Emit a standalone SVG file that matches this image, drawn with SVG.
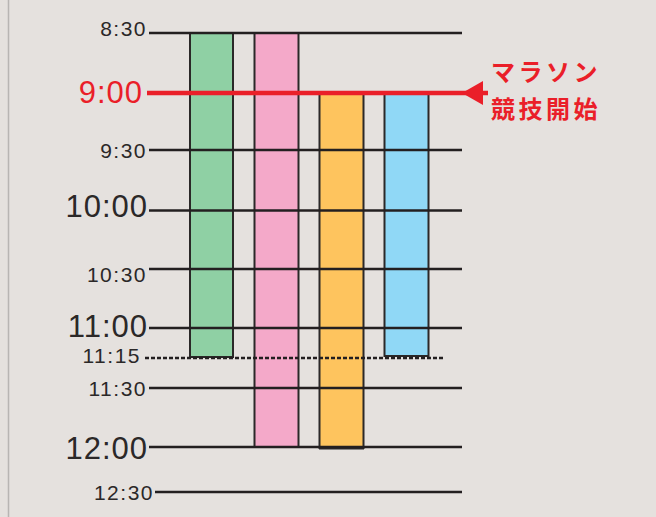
<svg xmlns="http://www.w3.org/2000/svg" width="656" height="517" viewBox="0 0 656 517">
<style>
.lbl{font-family:"Liberation Sans",Arial,sans-serif;fill:#2b2828;text-anchor:end}
.s{font-size:21px;letter-spacing:1.5px}
.b{font-size:31px;letter-spacing:1px}
.bar{stroke:#2b2828;stroke-width:2}
.grid{stroke:#231f20;stroke-width:2.6;fill:none}
.jp{font-family:"Liberation Sans","Noto Sans CJK JP",sans-serif;font-weight:bold;font-size:24px;fill:#ea1f29;letter-spacing:3.5px}
</style>
<rect width="656" height="517" fill="#e5e1de"/>
<line x1="8.5" y1="0" x2="8.5" y2="517" stroke="#b8b5b3" stroke-width="1.5"/>
<g id="bar-green"><rect class="bar" x="190" y="33" width="43" height="324" fill="#8fd0a4"/></g>
<g id="bar-pink"><rect class="bar" x="254.5" y="33" width="44" height="414" fill="#f4a9c9"/></g>
<g id="bar-orange"><rect class="bar" x="319.5" y="93" width="44" height="355" fill="#fec45e"/><line x1="319" y1="448" x2="364" y2="448" stroke="#2b2828" stroke-width="3"/></g>
<g id="bar-blue"><rect class="bar" x="384.5" y="93" width="44" height="263" fill="#90d8f6"/></g>
<g id="connectors">
<line class="grid" x1="149" y1="33" x2="462" y2="33"/>
<line class="grid" x1="149" y1="150" x2="462" y2="150"/>
<line class="grid" x1="149" y1="210.5" x2="462" y2="210.5"/>
<line class="grid" x1="149" y1="269" x2="462" y2="269"/>
<line class="grid" x1="149" y1="328" x2="462" y2="328"/>
<line class="grid" x1="145" y1="358" x2="445" y2="358" stroke-dasharray="4 2" stroke-width="2"/>
<line class="grid" x1="149" y1="388" x2="462" y2="388"/>
<line class="grid" x1="149" y1="447" x2="462" y2="447"/>
<line class="grid" x1="155" y1="492" x2="462" y2="492"/>
<line x1="147" y1="93" x2="488" y2="93" stroke="#ea1f29" stroke-width="4.5"/>
<polygon points="462,93 483,81 483,105" fill="#ea1f29"/>
</g>
<g id="labels">
<text class="lbl s" x="147" y="36">8:30</text>
<text class="lbl b" x="143" y="103" style="fill:#ea1f29">9:00</text>
<text class="lbl s" x="147" y="158">9:30</text>
<text class="lbl b" x="148" y="217">10:00</text>
<text class="lbl s" x="147" y="282">10:30</text>
<text class="lbl b" x="148" y="337">11:00</text>
<text class="lbl s" x="141" y="363">11:15</text>
<text class="lbl s" x="147" y="396">11:30</text>
<text class="lbl b" x="148" y="459">12:00</text>
<text class="lbl s" x="154" y="500">12:30</text>
</g>
<g id="note">
<text class="jp" x="491" y="81">マラソン</text>
<text class="jp" x="491" y="118">競技開始</text>
</g>
</svg>
